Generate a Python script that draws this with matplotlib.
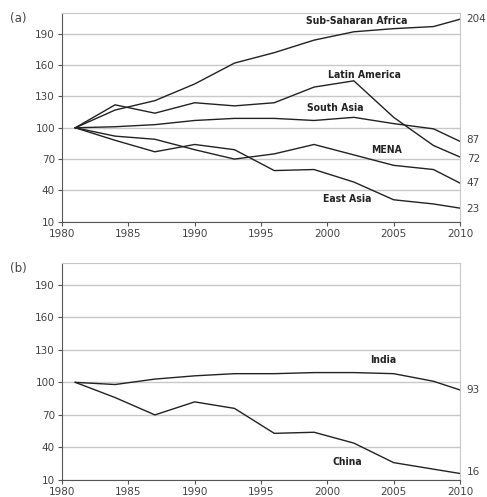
import numpy as np
from matplotlib import pyplot as plt

years = [1981, 1984, 1987, 1990, 1993, 1996, 1999, 2002, 2005, 2008, 2010]

# panel (a)
ssa = [100, 117, 126, 142, 162, 172, 184, 192, 195, 197, 204]
latam = [100, 122, 114, 124, 121, 124, 139, 145, 110, 83, 72]
sasia = [100, 101, 103, 107, 109, 109, 107, 110, 104, 99, 87]
mena = [100, 92, 89, 79, 70, 75, 84, 74, 64, 60, 47]
easia = [100, 88, 77, 84, 79, 59, 60, 48, 31, 27, 23]

# panel (b)
india = [100, 98, 103, 106, 108, 108, 109, 109, 108, 101, 93]
china = [100, 86, 70, 82, 76, 53, 54, 44, 26, 20, 16]

series_a = [ssa, latam, sasia, mena, easia]
names_a = ['Sub-Saharan Africa', 'Latin America', 'South Asia', 'MENA', 'East Asia']
name_pos_a = [(2002.2, 202), (2002.8, 151), (2000.6, 118.5), (2004.5, 79), (2001.5, 31.4)]
end_a = ['204', '87', '72', '47', '23']
end_pos_a = [204, 88, 70, 47, 22]

series_b = [india, china]
names_b = ['India', 'China']
name_pos_b = [(2004.2, 121), (2001.5, 27)]
end_b = ['93', '16']
end_pos_b = [93, 17.5]

W, H = 487, 497
fig = plt.figure(figsize=(W/100, H/100), dpi=100)
ax1 = fig.add_axes([62/W, 1-221.7/H, (460-62)/W, (221.7-13)/H])
ax2 = fig.add_axes([62/W, 1-480/H, (460-62)/W, (480-263)/H])

lab_font = dict(family='DejaVu Sans', fontstretch='condensed', fontweight='bold', fontsize=7.5, color='#222222')


def style(ax, tag):
    ax.set_xlim(1980, 2010)
    ax.set_ylim(10, 210)
    ax.set_yticks(np.arange(10, 200, 30))
    ax.set_xticks(np.arange(1980, 2011, 5))
    ax.grid(axis='y', color='#c8c8c8', lw=1.0)
    ax.set_axisbelow(True)
    for s in ['top', 'right']:
        ax.spines[s].set_color('#c8c8c8')
    for s in ['left', 'bottom']:
        ax.spines[s].set_color('#555555')
    ax.tick_params(axis='both', labelsize=7.5, labelcolor='#444444', color='#555555',
                   direction='out', length=3, pad=2)
    ax.text(-0.13, 0.975, tag, transform=ax.transAxes, fontsize=8.5, color='#444444',
            va='center', ha='left')


for ax, ser, names, npos, ends, epos, tag in [
        (ax1, series_a, names_a, name_pos_a, end_a, end_pos_a, '(a)'),
        (ax2, series_b, names_b, name_pos_b, end_b, end_pos_b, '(b)')]:
    style(ax, tag)
    for s in ser:
        ax.plot(years, s, color='#222222', lw=1.0)
    for n, (x, y) in zip(names, npos):
        ax.text(x, y, n, ha='center', va='center', **lab_font)
    for e, y in zip(ends, epos):
        ax.text(2010.5, y, e, ha='left', va='center', fontsize=7.5, color='#444444', clip_on=False)

plt.savefig('out.png', dpi=100)
